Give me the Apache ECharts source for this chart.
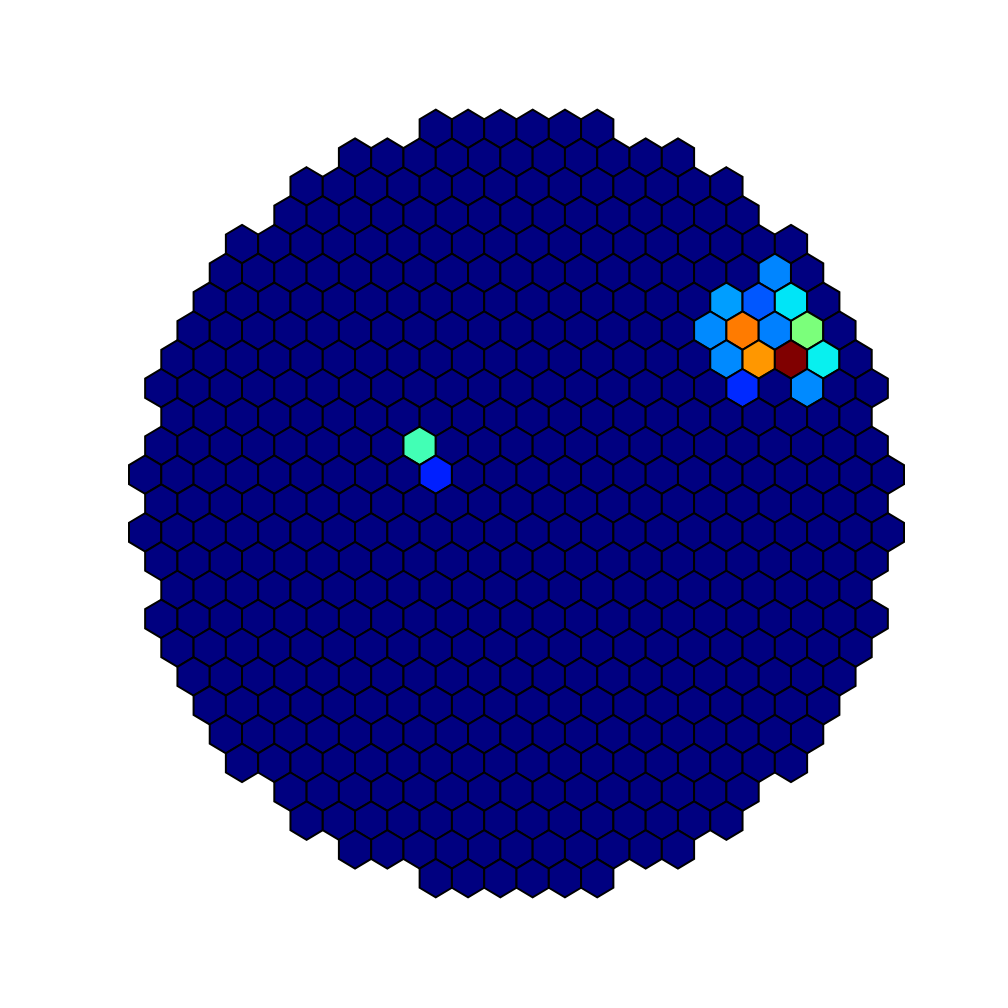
<!DOCTYPE html>
<html>
<head>
<meta charset="utf-8">
<script src="https://cdn.jsdelivr.net/npm/echarts@6/dist/echarts.min.js"></script>
<style>html,body{margin:0;padding:0;background:#fff;}#main{width:1008px;height:1008px;}</style>
</head>
<body>
<div id="main"></div>
<script>
// Camera layout: number of pixels in each row, top to bottom (499 pixels)
var rowCounts = [6, 11, 14, 15, 18, 19, 20, 21, 22, 23, 22, 23, 24, 23, 24, 23, 22, 23, 22, 21, 20, 19, 18, 15, 14, 11, 6];
// Lit pixels: row index (from top), column offset from centre, value
var litRow   = [5, 6, 6, 6, 7, 7, 7, 7, 8, 8, 8, 8, 9, 9, 11, 12];
var litCol   = [8, 6.5, 7.5, 8.5, 6, 7, 8, 9, 6.5, 7.5, 8.5, 9.5, 7, 9, -3, -2.5];
var litValue = [25.5, 28, 21, 35, 26, 78, 25, 50, 26, 75, 100, 36, 16.5, 26, 43, 15.5];
var valueMin = 0, valueMax = 100;

var midRow = (rowCounts.length - 1) / 2;
var data = [];
for (var r = 0; r < rowCounts.length; r++) {
  var n = rowCounts[r];
  for (var k = 0; k < n; k++) {
    var c = k - (n - 1) / 2;
    var v = 0;
    for (var i = 0; i < litRow.length; i++) {
      if (litRow[i] === r && litCol[i] === c) v = litValue[i];
    }
    data.push([c, midRow - r, v]);
  }
}

// matplotlib "jet" colormap
function seg(pts, x) {
  for (var i = 1; i < pts.length; i++) {
    if (x <= pts[i][0]) {
      var a = pts[i - 1], b = pts[i];
      return a[1] + (b[1] - a[1]) * (x - a[0]) / (b[0] - a[0]);
    }
  }
  return pts[pts.length - 1][1];
}
var R = [[0, 0], [0.35, 0], [0.66, 1], [0.89, 1], [1, 0.5]];
var G = [[0, 0], [0.125, 0], [0.375, 1], [0.64, 1], [0.91, 0], [1, 0]];
var B = [[0, 0.5], [0.11, 1], [0.34, 1], [0.65, 0], [1, 0]];
var jet = [];
for (var s = 0; s <= 200; s++) {
  var x = s / 200;
  jet.push('rgb(' + Math.round(255 * seg(R, x)) + ',' + Math.round(255 * seg(G, x)) + ',' + Math.round(255 * seg(B, x)) + ')');
}

var chart = echarts.init(document.getElementById('main'), null, {renderer: 'canvas'});
chart.setOption({
  animation: false,
  backgroundColor: '#ffffff',
  grid: {left: 129, right: 104, top: 100, bottom: 101},
  xAxis: {type: 'value', min: -12, max: 12, show: false},
  yAxis: {type: 'value', min: -14, max: 14, show: false},
  visualMap: {
    show: false, type: 'continuous', min: valueMin, max: valueMax,
    dimension: 2, seriesIndex: 0, inRange: {color: jet}
  },
  series: [{
    type: 'custom',
    encode: {x: 0, y: 1},
    data: data,
    renderItem: function (params, api) {
      var cx = api.value(0), cy = api.value(1);
      var off = [[0, 2/3], [0.5, 1/3], [0.5, -1/3], [0, -2/3], [-0.5, -1/3], [-0.5, 1/3]];
      var pts = off.map(function (o) { return api.coord([cx + o[0], cy + o[1]]); });
      return {
        type: 'polygon',
        shape: {points: pts},
        style: {fill: api.visual('color'), stroke: '#000000', lineWidth: 2, lineJoin: 'miter'}
      };
    }
  }]
});
</script>
</body>
</html>
